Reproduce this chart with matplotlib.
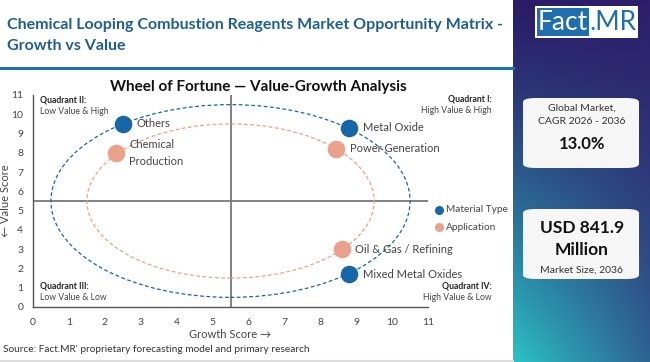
import numpy as np
import matplotlib.pyplot as plt
from matplotlib.patches import Ellipse, FancyBboxPatch, Rectangle

plt.rcParams['font.family'] = ['Lato', 'DejaVu Sans']

# ---- data ----
material_names = ["Others", "Metal Oxide", "Mixed Metal Oxides"]
material_growth = [2.5, 8.8, 8.8]
material_value = [9.5, 9.3, 1.7]

application_names = ["Chemical\nProduction", "Power Generation", "Oil & Gas / Refining"]
application_growth = [2.3, 8.45, 8.6]
application_value = [8.0, 8.2, 3.0]

ring_center = (5.5, 5.5)
material_radius = 5.0
application_radius = 4.0

ticks = list(range(0, 12))

BLUE = "#1666a8"
SALMON = "#e9a18b"
TITLE_BLUE = "#1f5e93"
GREY_TXT = "#444444"

W, H = 650, 362
fig = plt.figure(figsize=(6.5, 3.62), dpi=100)
fig.patch.set_facecolor("white")


def fx(x):
    return x / W


def fy(y):
    return 1 - y / H


# ---- sidebar gradient ----
side = fig.add_axes([fx(513), 0, 1 - fx(513), 1])
tl = np.array([0x2b, 0x1c, 0x68]) / 255
tr = np.array([0x2e, 0x1f, 0x6a]) / 255
bl = np.array([0x2b, 0xc2, 0xc7]) / 255
br = np.array([0x2f, 0x63, 0x92]) / 255
u = np.linspace(0, 1, 60)[None, :, None]
v = np.linspace(0, 1, 200)[:, None, None]
v = v ** 1.3
grad = (1 - v) * ((1 - u) * tl + u * tr) + v * ((1 - u) * bl + u * br)
side.imshow(grad, aspect="auto", extent=[0, 1, 0, 1], origin="upper")
side.set_axis_off()

# header underline and bottom border
fig.add_artist(plt.Line2D([0, fx(513)], [fy(68), fy(68)], color="#1f6fae", lw=2.2))
fig.add_artist(plt.Line2D([0, fx(513)], [fy(360.5), fy(360.5)], color="#dddddd", lw=1.5))

# title
fig.text(fx(7), fy(25), "Chemical Looping Combustion Reagents Market Opportunity Matrix -",
         fontsize=11.5, fontweight="bold", color=TITLE_BLUE, va="center", ha="left")
fig.text(fx(7), fy(46), "Growth vs Value", fontsize=11.5, fontweight="bold",
         color=TITLE_BLUE, va="center", ha="left")

# logo
fig.add_artist(Rectangle((fx(535), fy(38)), fx(638) - fx(535), fy(6) - fy(38),
                         transform=fig.transFigure, facecolor="white", edgecolor="none"))
fig.add_artist(Rectangle((fx(537), fy(36)), fx(589) - fx(537), fy(8) - fy(36),
                         transform=fig.transFigure, facecolor="#1f6fae", edgecolor="none"))
fig.text(fx(563), fy(22), "Fact", fontsize=19, color="white", ha="center", va="center")
fig.text(fx(613), fy(22), ".MR", fontsize=19, color="#1f6fae", ha="center", va="center")

# cards
for y0, y1 in [(98, 168), (209, 279)]:
    fig.add_artist(FancyBboxPatch((fx(523), fy(y1)), fx(639) - fx(523), fy(y0) - fy(y1),
                                  boxstyle="round,pad=0,rounding_size=0.02",
                                  transform=fig.transFigure, facecolor="#f6f6f6",
                                  edgecolor="none", mutation_aspect=H / W))
cx = fx(582)
fig.text(cx, fy(108), "Global Market,", fontsize=7.5, color="#333333", ha="center", va="center")
fig.text(cx, fy(121), "CAGR 2026 - 2036", fontsize=7.5, color="#333333", ha="center", va="center")
fig.text(cx, fy(144), "13.0%", fontsize=12, fontweight="bold", color="#111111", ha="center", va="center")
fig.text(cx, fy(228), "USD 841.9", fontsize=12.5, fontweight="bold", color="#111111", ha="center", va="center")
fig.text(cx, fy(250), "Million", fontsize=12.5, fontweight="bold", color="#111111", ha="center", va="center")
fig.text(cx, fy(270), "Market Size, 2036", fontsize=7.5, color="#333333", ha="center", va="center")

# ---- main chart ----
ax = fig.add_axes([fx(33), fy(307), fx(428) - fx(33), fy(95) - fy(307)])
ax.set_xlim(0, 11)
ax.set_ylim(0, 11)
for s in ["top", "right"]:
    ax.spines[s].set_visible(False)
for s in ["left", "bottom"]:
    ax.spines[s].set_color("#555555")
    ax.spines[s].set_linewidth(1.0)
ax.set_xticks(ticks)
ax.set_yticks(ticks)
ax.tick_params(length=0, labelsize=7.5, labelcolor="#444444")
ax.tick_params(axis="x", pad=8)
ax.tick_params(axis="y", pad=7)

ax.axvline(5.5, color="#777777", lw=1.3, zorder=1)
ax.axhline(5.5, color="#777777", lw=1.3, zorder=1)

ax.add_patch(Ellipse(ring_center, 2 * material_radius, 2 * material_radius, fill=False,
                     edgecolor=BLUE, lw=0.9, ls=(0, (3, 2)), zorder=2))
ax.add_patch(Ellipse(ring_center, 2 * application_radius, 2 * application_radius, fill=False,
                     edgecolor=SALMON, lw=0.9, ls=(0, (3, 2)), zorder=2))

ax.scatter(material_growth, material_value, s=160, color=BLUE, zorder=4, linewidths=0)
ax.scatter(application_growth, application_value, s=160, color=SALMON, zorder=4, linewidths=0)

for name, gx, gv in zip(material_names, material_growth, material_value):
    ax.text(gx + 0.38, gv, name, fontsize=8, color=GREY_TXT, va="center", ha="left", zorder=5)
for name, gx, gv in zip(application_names, application_growth, application_value):
    ax.text(gx + 0.38, gv, name, fontsize=8, color=GREY_TXT, va="center", ha="left",
            zorder=5, linespacing=1.6)

ax.set_xlabel("Growth Score \u2192", fontsize=8, color=GREY_TXT, labelpad=1)
ax.set_ylabel("\u2190 Value Score", fontsize=8, color=GREY_TXT, labelpad=0)

fig.text(fx(258), fy(87), "Wheel of Fortune \u2014 Value-Growth Analysis", fontsize=11,
         fontweight="bold", color="#111111", ha="center", va="center")

# quadrant labels
fig.text(fx(40), fy(100), "Quadrant II:", fontsize=6.2, fontweight="bold", color="#222222", va="center")
fig.text(fx(40), fy(112), "Low Value & High", fontsize=6.2, color=GREY_TXT, va="center")
fig.text(fx(492), fy(99), "Quadrant I:", fontsize=6.2, fontweight="bold", color="#222222", va="center", ha="right")
fig.text(fx(492), fy(111), "High Value & High", fontsize=6.2, color=GREY_TXT, va="center", ha="right")
fig.text(fx(40), fy(286), "Quadrant III:", fontsize=6.2, fontweight="bold", color="#222222", va="center")
fig.text(fx(40), fy(298), "Low Value & Low", fontsize=6.2, color=GREY_TXT, va="center")
fig.text(fx(492), fy(286), "Quadrant IV:", fontsize=6.2, fontweight="bold", color="#222222", va="center", ha="right")
fig.text(fx(492), fy(298), "High Value & Low", fontsize=6.2, color=GREY_TXT, va="center", ha="right")

# legend
fig.add_artist(plt.Line2D([fx(439)], [fy(210)], marker="o", ms=5.5, color=BLUE, ls="none"))
fig.text(fx(446), fy(210), "Material Type", fontsize=7.3, color=GREY_TXT, va="center")
fig.add_artist(plt.Line2D([fx(439)], [fy(227)], marker="o", ms=5.5, color=SALMON, ls="none"))
fig.text(fx(446), fy(227), "Application", fontsize=7.3, color=GREY_TXT, va="center")

fig.text(fx(3), fy(349), "Source: Fact.MR' proprietary forecasting model and primary research",
         fontsize=7.3, color="#333333", va="center")

fig.savefig("out.png", dpi=100)
